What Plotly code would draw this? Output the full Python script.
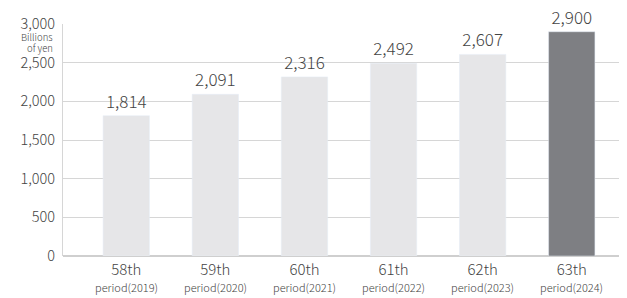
import plotly.graph_objects as go

period_labels = ["58th", "59th", "60th", "61th", "62th", "63th"]
years = ["period(2019)", "period(2020)", "period(2021)", "period(2022)", "period(2023)", "period(2024)"]
values = [1814, 2091, 2316, 2492, 2607, 2900]
unit_lines = ["Billions", "of yen"]
colors = ["#e6e6e8"] * 5 + ["#7e7f83"]

FONT = "Noto Sans CJK JP, Noto Sans, sans-serif"
x = list(range(len(values)))

fig = go.Figure(go.Bar(
    x=x, y=values, marker_color=colors, width=0.52,
    text=[f"{v:,}" for v in values], textposition="outside",
    textfont=dict(size=17, color="#444444", family=FONT, weight=300), cliponaxis=False,
))

annotations = [dict(text=y, x=i, xref="x", y=0, yref="paper", yanchor="middle", yshift=-31,
                    showarrow=False, font=dict(size=11, color="#444444", family=FONT, weight=300))
               for i, y in zip(x, years)]
for txt, yp in zip(unit_lines, [0.942, 0.895]):
    annotations.append(dict(text=txt, xref="paper", yref="paper", x=-0.014, y=yp,
                            xanchor="right", yanchor="middle", showarrow=False,
                            font=dict(size=9.5, color="#444444", family=FONT, weight=300)))

fig.update_layout(
    width=619, height=290, margin=dict(l=55, r=0, t=16, b=42),
    paper_bgcolor="white", plot_bgcolor="white", showlegend=False,
    font=dict(family=FONT, color="#444444", weight=300),
    xaxis=dict(range=[-0.71, 5.62], tickvals=x, ticktext=period_labels,
               tickfont=dict(size=15, color="#444444", family=FONT, weight=300),
               showgrid=False, zeroline=False, showline=False, ticks="", ticklabelstandoff=3),
    yaxis=dict(range=[0, 3000], tickvals=[0, 500, 1000, 1500, 2000, 2500, 3000],
               tickformat=",", tickfont=dict(size=14.5, color="#444444", family=FONT, weight=300),
               showgrid=True, gridcolor="#d6d6d6", gridwidth=1, zeroline=True,
               zerolinecolor="#cfcfcf", showline=True, linecolor="#d6d6d6", ticks="",
               ticklabelstandoff=4),
    annotations=annotations,
)
fig.write_html("out.html")
